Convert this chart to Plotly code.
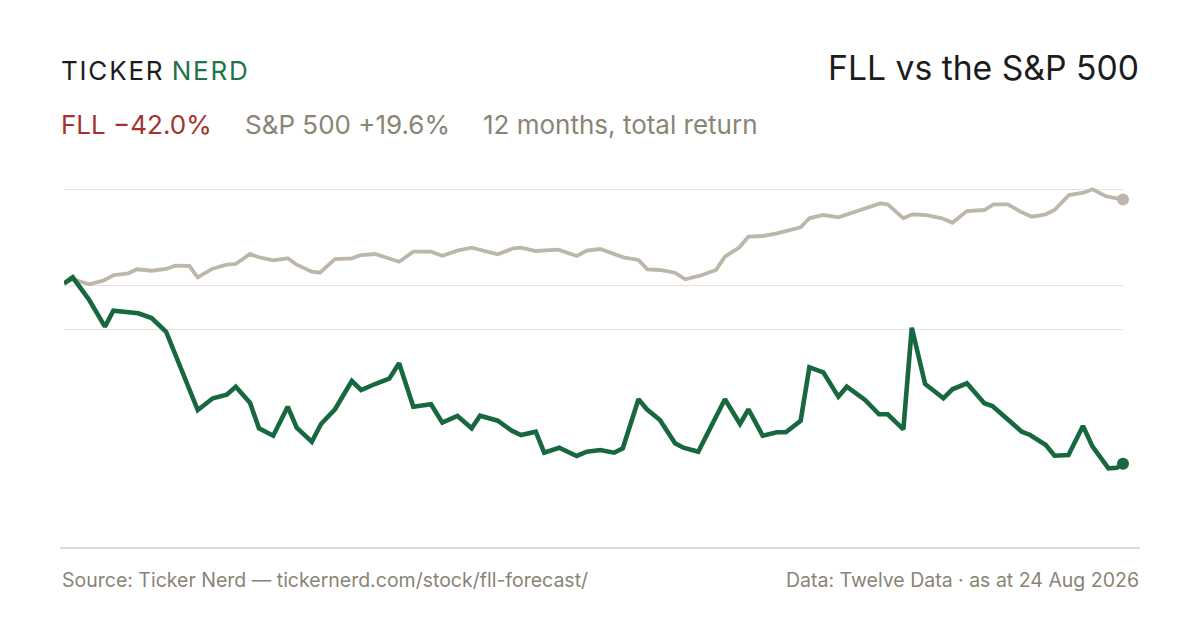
import plotly.graph_objects as go

# ---- data (day offset within the 12-month window, total return %) ----
fll_days = [0, 3, 8.7, 14.1, 17.0, 22.8, 25.6, 30.2, 35.2, 46.1, 51.3, 56.1, 59.2, 64.1, 67.2,
            72.1, 77.1, 80.2, 85.4, 88.6, 93.4, 99.2, 102.4, 107.2, 112.1, 115.5, 120.4, 126.5,
            130.4, 135.6, 140.5, 143.4, 149.5, 154.3, 157.5, 162.6, 165.5, 170.7, 176.7, 180.2,
            184.8, 189.6, 192.6, 198.0, 200.9, 205.4, 210.6, 213.5, 218.6, 227.8, 233.0, 235.9,
            240.8, 245.7, 248.8, 253.9, 256.9, 261.7, 266.9, 269.8, 276.1, 280.9, 283.9, 289.3,
            292.2, 296.8, 303.1, 306.2, 311.2, 317.2, 320.0, 330.1, 333.0, 338.4, 341.4, 346.2,
            351.2, 354.5, 360.0, 362.9, 365]
fll_ret = [0.0, 1.45, -3.85, -10.07, -6.34, -6.71, -6.95, -8.04, -11.24, -29.49, -26.76, -25.92,
           -24.06, -27.79, -33.75, -35.48, -28.72, -33.61, -36.88, -32.75, -29.32, -22.73, -24.83,
           -23.43, -22.19, -18.60, -28.72, -28.16, -32.45, -30.89, -33.75, -30.82, -31.98, -34.31,
           -35.31, -34.55, -39.44, -38.28, -40.21, -39.21, -38.81, -39.44, -38.41, -26.99, -29.32,
           -31.82, -37.25, -38.28, -39.21, -26.99, -32.75, -29.32, -35.48, -34.69, -34.69, -31.98,
           -19.53, -20.70, -26.39, -24.06, -27.16, -30.49, -30.49, -33.99, -10.30, -23.43, -26.76,
           -24.66, -23.26, -27.93, -28.55, -34.55, -35.31, -37.65, -40.14, -39.98, -33.22, -38.04,
           -43.08, -42.94, -42.0]

spx_days = [0, 3, 8.7, 13.5, 17.2, 22.2, 25.1, 30.2, 35.2, 38.3, 43.2, 46.1, 51.2, 56.1, 59.2,
            64.1, 67.2, 72.1, 77.1, 80.2, 85.4, 88.2, 93.4, 99.2, 102.4, 107.2, 115.5, 120.4,
            126.5, 130.4, 135.6, 140.5, 149.5, 154.9, 157.5, 162.6, 170.4, 176.7, 180.2, 184.8,
            192.8, 198.0, 201.1, 205.4, 210.6, 214.1, 219.2, 224.7, 227.8, 232.8, 235.9, 240.8,
            245.7, 253.9, 256.9, 261.7, 266.9, 276.7, 281.3, 283.9, 289.3, 292.4, 296.8, 302.6,
            306.2, 311.2, 317.2, 320.4, 325.3, 330.1, 333.6, 338.4, 341.4, 346.4, 351.4, 354.5,
            358.9, 362.9, 365]
spx_ret = [0.0, 0.98, -0.19, 0.65, 1.98, 2.38, 3.31, 2.98, 3.38, 4.15, 4.08, 1.45, 3.45, 4.38,
           4.55, 6.88, 6.11, 5.41, 5.87, 4.38, 2.75, 2.52, 5.71, 5.87, 6.64, 6.88, 5.08, 7.41,
           7.41, 6.48, 7.65, 8.35, 6.81, 8.21, 8.35, 7.58, 7.88, 6.41, 7.65, 8.04, 6.11, 5.48,
           3.31, 3.15, 2.52, 0.98, 1.82, 3.15, 6.25, 8.44, 10.91, 11.07, 11.70, 13.10, 15.20,
           15.97, 15.43, 17.53, 18.69, 18.46, 15.20, 16.13, 15.97, 15.20, 14.17, 16.90, 17.13,
           18.46, 18.46, 16.60, 15.57, 16.13, 17.13, 20.63, 21.17, 21.96, 20.40, 19.86, 19.6]

grid_values = [21.96, -0.42, -10.77]

title_text = "FLL vs the S&P 500"
fll_label = "FLL \u221242.0%"
spx_label = "S&P 500 +19.6%"
period_label = "12 months, total return"
source_text = "Source: Ticker Nerd \u2014 tickernerd.com/stock/fll-forecast/"
data_text = "Data: Twelve Data \u00b7 as at 24 Aug 2026"

GREEN = "#17683f"
GREY_LINE = "#bdb6aa"
MUTED = "#8a8475"
RED = "#a3332b"
INK = "#1c1c1c"
FONT = "Inter, Liberation Sans, sans-serif"

# plot area in pixels
PL, PR, PT, PB = 64, 1123, 170, 500
PW, PH = PR - PL, PB - PT


def px(x):
    return (x - PL) / PW


def py(y):
    return (PB - y) / PH


fig = go.Figure()
fig.add_trace(go.Scatter(x=spx_days, y=spx_ret, mode="lines", cliponaxis=False,
                         line=dict(color=GREY_LINE, width=3.8), hoverinfo="skip"))
fig.add_trace(go.Scatter(x=fll_days, y=fll_ret, mode="lines", cliponaxis=False,
                         line=dict(color=GREEN, width=4.6), hoverinfo="skip"))
fig.add_trace(go.Scatter(x=[spx_days[-1]], y=[spx_ret[-1]], mode="markers", cliponaxis=False,
                         marker=dict(color=GREY_LINE, size=12), hoverinfo="skip"))
fig.add_trace(go.Scatter(x=[fll_days[-1]], y=[fll_ret[-1]], mode="markers", cliponaxis=False,
                         marker=dict(color=GREEN, size=12), hoverinfo="skip"))

fig.update_layout(
    width=1200, height=630,
    paper_bgcolor="white", plot_bgcolor="white",
    margin=dict(l=PL, r=1200 - PR, t=PT, b=630 - PB),
    showlegend=False,
    font=dict(family=FONT),
    xaxis=dict(range=[0, 365], visible=False, fixedrange=True),
    yaxis=dict(range=[-50.47, 26.46], tickvals=grid_values, showticklabels=False,
               showgrid=True, gridcolor="#e6e2d9", gridwidth=1.3, zeroline=False,
               showline=False, ticks="", fixedrange=True),
)

left_texts = [
    ("<span style='letter-spacing:1.8px'>TICKER</span> "
     "<span style='color:#1f7447;letter-spacing:1.8px'>NERD</span>", 59, 70, 26, INK),
    (fll_label, 59, 125, 26, RED),
    (spx_label, 243, 125, 26, MUTED),
    (period_label, 481, 125, 26, MUTED),
    (source_text, 60, 580, 19.5, MUTED),
]
for txt, x, y, size, col in left_texts:
    fig.add_annotation(xref="paper", yref="paper", xanchor="left", yanchor="middle",
                       showarrow=False, text=txt, x=px(x), y=py(y),
                       font=dict(size=size, color=col))
for txt, y, size, col in [(title_text, 67, 33.7, INK), (data_text, 580, 19.5, MUTED)]:
    fig.add_annotation(xref="paper", yref="paper", xanchor="right", yanchor="middle",
                       showarrow=False, text=txt, x=px(1141), y=py(y),
                       font=dict(size=size, color=col))

fig.add_shape(type="line", xref="paper", yref="paper",
              x0=px(60), x1=px(1140), y0=py(548), y1=py(548),
              line=dict(color="#dedad0", width=2))

fig.write_html("out.html", config={"displayModeBar": False},
               post_script="document.body.style.margin='0';")
